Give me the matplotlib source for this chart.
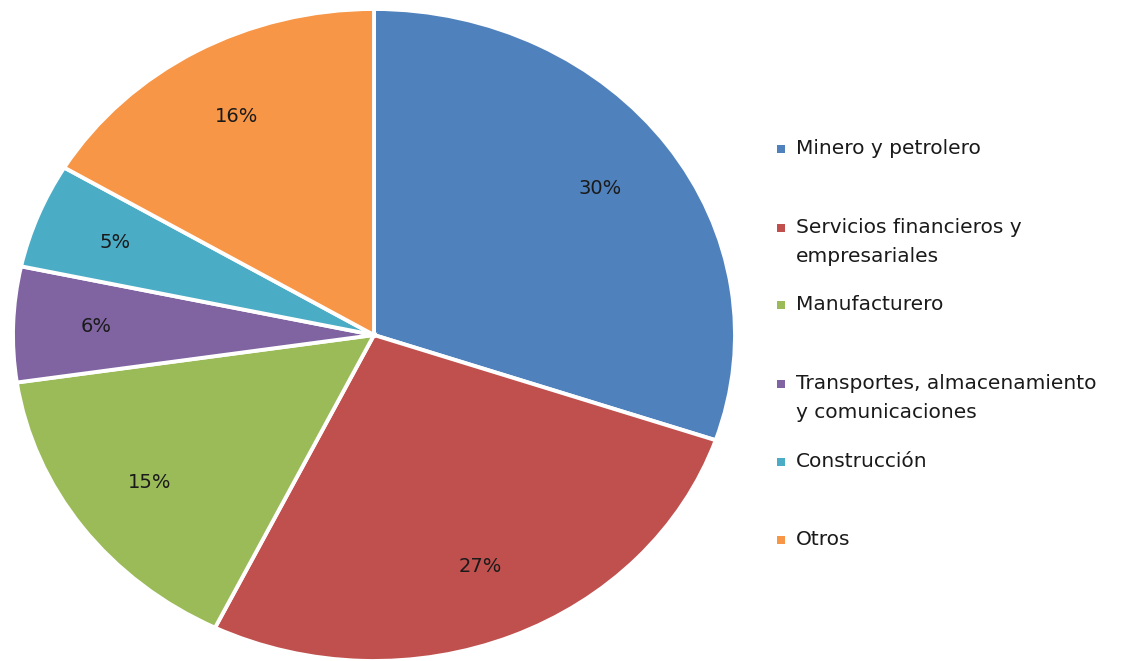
import matplotlib.pyplot as plt
from matplotlib.patches import Rectangle

# sector shares (%)
sectors = [
    "Minero y petrolero",
    "Servicios financieros y\nempresariales",
    "Manufacturero",
    "Transportes, almacenamiento\ny comunicaciones",
    "Construcción",
    "Otros",
]
shares = [30.2, 27.0, 15.4, 5.7, 5.2, 16.4]
colors = ["#4F81BD", "#C0504D", "#9BBB59", "#8064A2", "#4BACC6", "#F79646"]

plt.rcParams["font.family"] = ["DejaVu Sans"]

fig = plt.figure(figsize=(11.4, 6.61), dpi=100)
ax = fig.add_axes([13 / 1140, 0 / 661, 722 / 1140, 652 / 661])

wedges, texts, autotexts = ax.pie(
    shares,
    colors=colors,
    startangle=90,
    counterclock=False,
    autopct="%.0f%%",
    pctdistance=0.77,
    wedgeprops=dict(edgecolor="white", linewidth=2.8),
    textprops=dict(fontsize=14, color="#1a1a1a"),
)
ax.set_aspect("auto")
ax.set_xlim(-1, 1)
ax.set_ylim(-1, 1)
ax.axis("off")

# legend drawn by hand to follow the uneven spacing of the original
legend_y = [149, 228, 305, 384, 462, 540]
for label, color, y in zip(sectors, colors, legend_y):
    fy = 1 - y / 661
    fig.patches.append(
        Rectangle((777 / 1140, fy - 4 / 661), 8 / 1140, 8 / 661,
                  transform=fig.transFigure, facecolor=color, edgecolor="none")
    )
    fig.text(796 / 1140, fy + 10 / 661, label, fontsize=14.5, color="#1a1a1a",
             va="top", ha="left", linespacing=1.7)

fig.savefig("out.png", dpi=100)
